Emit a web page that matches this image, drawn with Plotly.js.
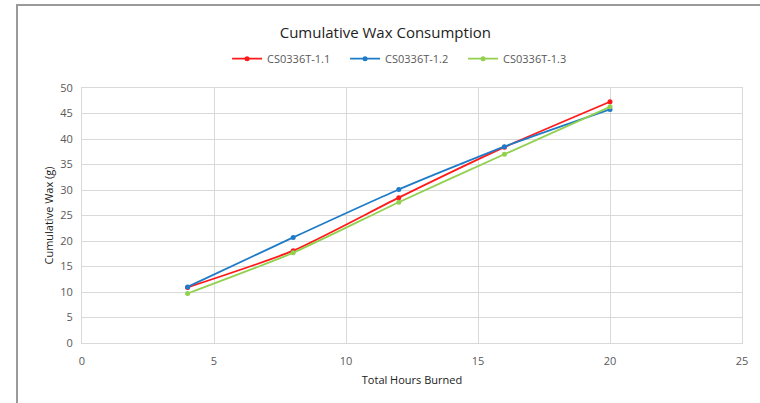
<!DOCTYPE html>
<html>
<head>
<meta charset="utf-8">
<script src="https://cdn.plot.ly/plotly-3.0.1.min.js"></script>
<style>
html,body{margin:0;padding:0;background:#fff;}
#frame{position:absolute;left:16px;top:4px;width:744px;height:399px;border-top:2px solid #9a9a9a;border-left:2px solid #9a9a9a;box-sizing:border-box;pointer-events:none;z-index:5;}
#chart{position:absolute;left:0;top:0;width:760px;height:403px;}
</style>
</head>
<body>
<div id="chart"></div>
<div id="frame"></div>
<script>
var hours = [4, 8, 12, 16, 20];
var series1 = [10.9, 18.1, 28.5, 38.4, 47.3];
var series2 = [11.0, 20.7, 30.1, 38.5, 45.8];
var series3 = [9.7, 17.7, 27.6, 37.0, 46.3];
var names = ['CS0336T-1.1', 'CS0336T-1.2', 'CS0336T-1.3'];
var colors = ['#FF1A1A', '#1F7BC8', '#92D050'];
var vals = [series1, series2, series3];

var traces = vals.map(function(v, i){
  return {
    x: hours, y: v, name: names[i], type: 'scatter', mode: 'lines+markers',
    line: {color: colors[i], width: 1.8, shape: 'spline', smoothing: 0.6},
    marker: {color: colors[i], size: 5, symbol: 'circle'}
  };
});

var font = '"Open Sans", "Noto Sans", sans-serif';
var layout = {
  width: 760, height: 403,
  margin: {l: 82, r: 18, t: 88, b: 60},
  paper_bgcolor: '#fff', plot_bgcolor: '#fff',
  font: {family: font, color: '#595959', size: 11},
  title: {text: 'Cumulative Wax Consumption', x: 0.507, xanchor: 'center', y: 0.918, yanchor: 'middle',
          font: {family: font, size: 15, color: '#222'}},
  showlegend: true,
  legend: {orientation: 'h', x: 0.488, xanchor: 'center', y: 1.115, yanchor: 'middle',
           font: {family: font, size: 11, color: '#595959'}, itemwidth: 30, tracegroupgap: 0,
           entrywidth: 73, entrywidthmode: 'pixels'},
  xaxis: {
    range: [0, 25], dtick: 5, tick0: 0, showgrid: true, gridcolor: '#d9d9d9', gridwidth: 1,
    zeroline: false, showline: true, linecolor: '#d9d9d9', linewidth: 1, mirror: true,
    ticks: '', ticklen: 0, ticklabelstandoff: 8, tickfont: {size: 11, color: '#595959'},
    title: {text: 'Total Hours Burned', font: {size: 11, color: '#222'}, standoff: 9}
  },
  yaxis: {
    range: [0, 50], dtick: 5, tick0: 0, showgrid: true, gridcolor: '#d9d9d9', gridwidth: 1,
    zeroline: false, showline: true, linecolor: '#d9d9d9', linewidth: 1, mirror: true,
    ticks: '', ticklabelstandoff: 6, tickfont: {size: 11, color: '#595959'},
    title: {text: 'Cumulative Wax (g)', font: {size: 11, color: '#222'}, standoff: 4}
  }
};

Plotly.newPlot('chart', traces, layout, {displayModeBar: false, staticPlot: true});
</script>
</body>
</html>
